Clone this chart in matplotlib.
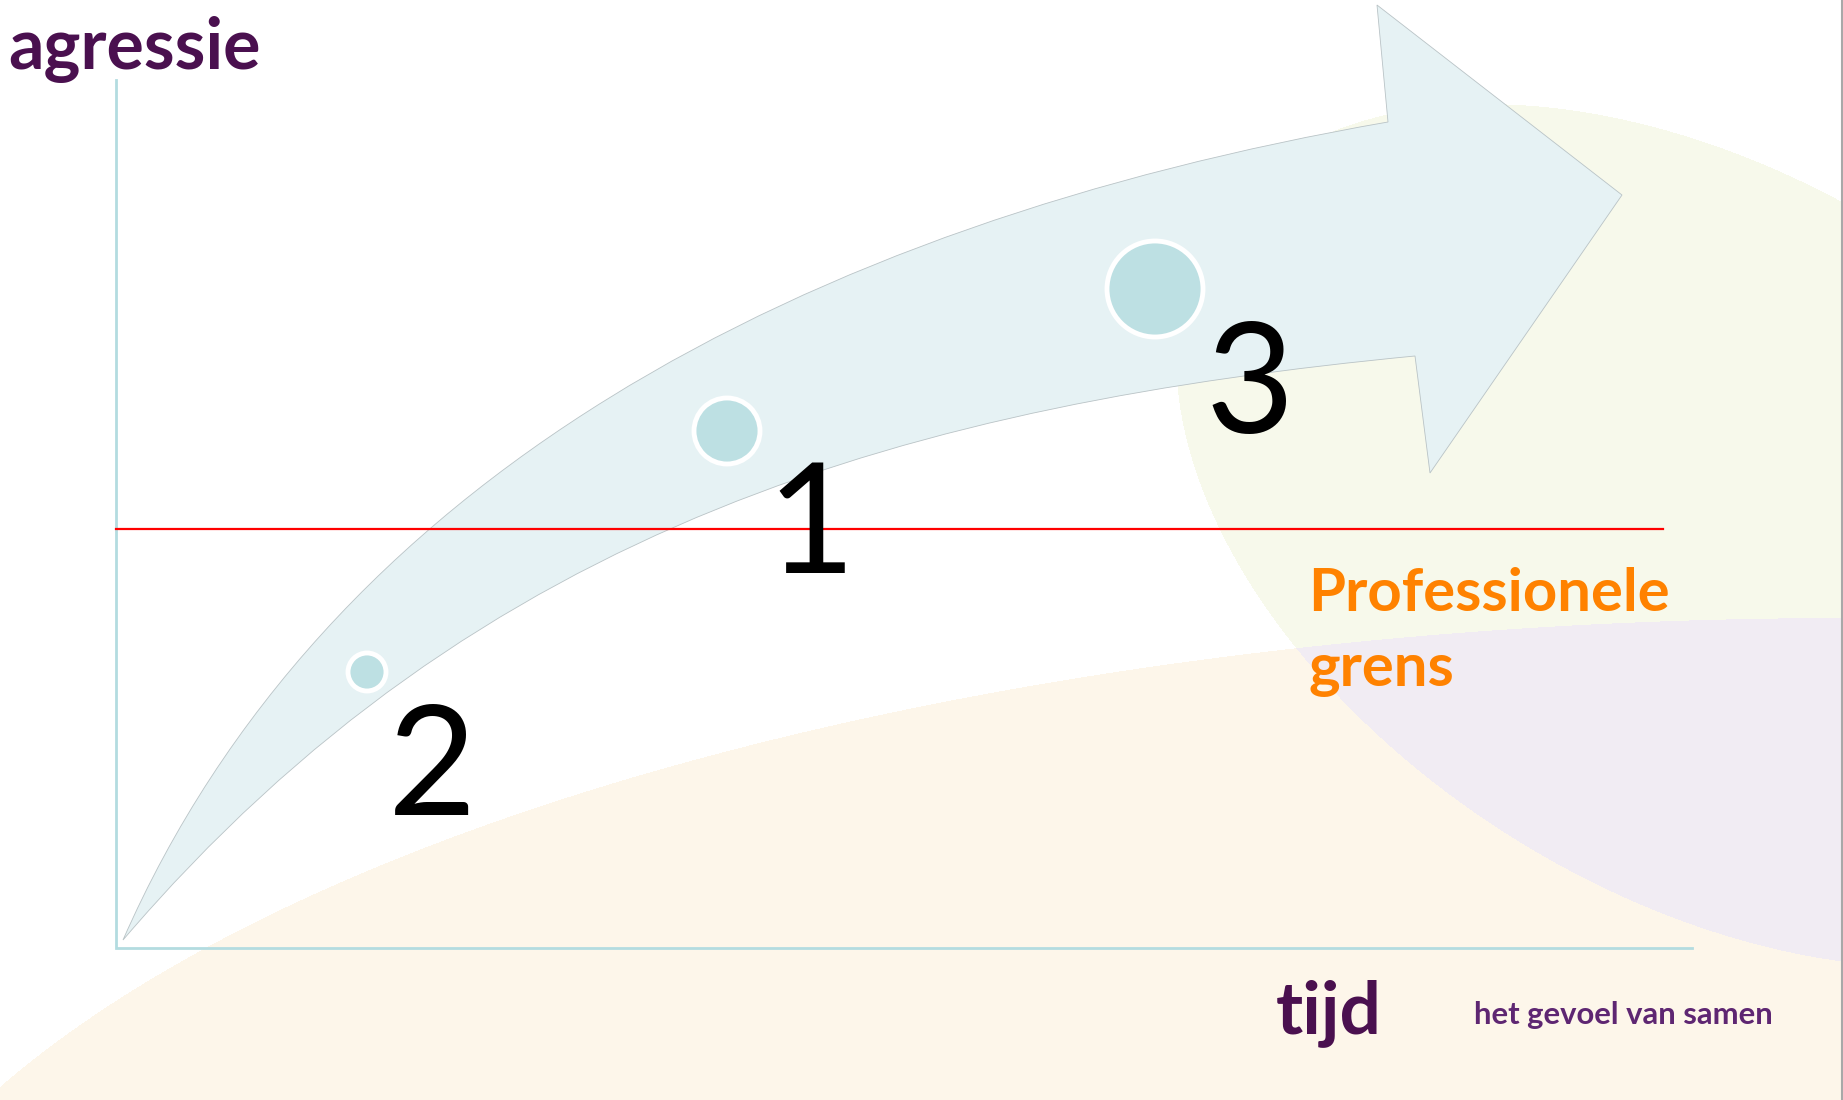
import numpy as np
import matplotlib
matplotlib.use("Agg")
import matplotlib.pyplot as plt
from matplotlib.path import Path
from matplotlib.patches import PathPatch, Circle

# canvas in pixels (y grows downwards, like the slide)
W, H = 1843, 1100

# stages along the arrow: label, dot centre, dot radius, label centre/baseline
stage_labels = ["2", "1", "3"]
dot_x = [367, 727, 1155]
dot_y = [672, 431, 289]
dot_r = [17, 31, 46]
label_x = [432, 811, 1250]
label_base = [815, 573, 433]

# text on the slide
y_title = "agressie"
x_title = "tijd"
limit_label = ["Professionele", "grens"]
tagline = "het gevoel van samen"

# arrow outline (tail, bezier controls, notch and head corners)
arrow_tail = (123, 940)
upper_ctrl = [(324, 482), (797, 225)]
notch_top = (1388, 122)
head_pts = [(1377, 5), (1622, 195), (1430, 473)]
notch_bot = (1415, 356)
lower_ctrl = [(918, 404), (480, 522)]

# edge of the pale green blob on the right
green_edge_x = [1185, 1187, 1193, 1211, 1246, 1293, 1352, 1400, 1467, 1528, 1700, 1843,
                1317, 1383, 1511, 1681, 1843]
green_edge_y = [405, 383, 470, 529, 588, 646, 705, 750, 793, 823, 920, 976,
                133, 80, 111, 156, 198]
green_edge_w = [3, 3, 3, 3, 2, 1, 1, 1, 1, 1, 1, 1,
                1, 1, 1, 1, 1]

c_purple = "#4a104f"
c_orange = "#ff8200"
c_arrow = "#e6f2f4"
c_dot = "#bde0e3"
c_axis = "#b3dce0"

fig = plt.figure(figsize=(W / 100, H / 100), dpi=100)
ax = fig.add_axes([0, 0, 1, 1])

## background blobs
yy, xx = np.mgrid[0:H, 0:W] + 0.5
beige = ((xx - 1850) / 2032) ** 2 + ((yy - 1418) / 800) ** 2 < 1

u = (np.array(green_edge_x) - 1500) / 500
v = (np.array(green_edge_y) - 500) / 500
wt = np.array(green_edge_w, dtype=float)
M = np.column_stack([u * u, u * v, v * v, u, v])
coef = np.linalg.lstsq(M * wt[:, None], wt, rcond=None)[0]
U = (xx - 1500) / 500
V = (yy - 500) / 500
Z = coef[0] * U * U + coef[1] * U * V + coef[2] * V * V + coef[3] * U + coef[4] * V - 1
green = Z < 0

img = np.ones((H, W, 3), dtype=np.float32)
img[green] = matplotlib.colors.to_rgb("#f7f9eb")
img[beige] = matplotlib.colors.to_rgb("#fdf6ea")
img[green & beige] = matplotlib.colors.to_rgb("#f1ecf3")
ax.imshow(img, extent=(0, W, H, 0), zorder=0, interpolation="nearest", aspect="auto")

## axes lines and the professional limit
ax.plot([116, 116, 1692], [80, 948, 948], color=c_axis, lw=2, zorder=1,
        solid_joinstyle="miter")
ax.plot([116, 1663], [529, 529], color="#ff0000", lw=1.6, zorder=4)
ax.plot([1841.5, 1841.5], [0, H], color="#a8a8a8", lw=1.5, zorder=5)

## arrow
verts = [arrow_tail, upper_ctrl[0], upper_ctrl[1], notch_top]
codes = [Path.MOVETO, Path.CURVE4, Path.CURVE4, Path.CURVE4]
for p in head_pts + [notch_bot]:
    verts.append(p)
    codes.append(Path.LINETO)
verts += [lower_ctrl[0], lower_ctrl[1], arrow_tail, arrow_tail]
codes += [Path.CURVE4, Path.CURVE4, Path.CURVE4, Path.CLOSEPOLY]
ax.add_patch(PathPatch(Path(verts, codes), facecolor=c_arrow,
                       edgecolor="#b9c3c6", lw=0.6, zorder=2))

## dots and numbers
for lab, x, y, r, lx, ly in zip(stage_labels, dot_x, dot_y, dot_r, label_x, label_base):
    ax.add_patch(Circle((x, y), r + 2, facecolor=c_dot, edgecolor="white",
                        lw=3.5, zorder=3))
    ax.text(lx, ly, lab, fontsize=110, family="Lato", color="black",
            ha="center", va="baseline", zorder=6)

## texts, sized to the widths on the slide
renderer = fig.canvas.get_renderer()


def fit_text(s, x, y, width, **kw):
    t = ax.text(x, y, s, fontsize=40, ha="left", va="baseline", zorder=6, **kw)
    w = t.get_window_extent(renderer).width
    t.set_fontsize(40 * width / w)
    return t


fit_text(y_title, 8, 69, 252, family="Lato", weight="bold", color=c_purple)
fit_text(x_title, 1276, 1033, 106, family="Lato", weight="bold", color=c_purple)
fit_text(tagline, 1474, 1024, 298, family="Lato", weight="bold", color="#5e2672")
t = fit_text(limit_label[0], 1308, 611, 362, family="Lato", weight="bold", color=c_orange)
ax.text(1308, 686, limit_label[1], fontsize=t.get_fontsize(), family="Lato",
        weight="bold", color=c_orange, ha="left", va="baseline", zorder=6)

ax.set_xlim(0, W)
ax.set_ylim(H, 0)
ax.axis("off")

plt.savefig("out.png", dpi=100)
